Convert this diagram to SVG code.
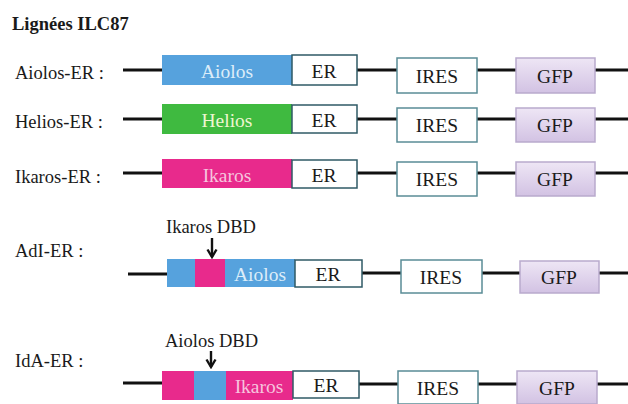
<svg xmlns="http://www.w3.org/2000/svg" width="628" height="404" viewBox="0 0 628 404">
<defs>
<linearGradient id="gfpg" x1="0" y1="0" x2="0" y2="1">
<stop offset="0" stop-color="#eee6f5"/>
<stop offset="1" stop-color="#d2c2e3"/>
</linearGradient>
<marker id="ah" viewBox="0 0 12 12" refX="10.5" refY="6" markerWidth="12" markerHeight="12" orient="auto" markerUnits="userSpaceOnUse">
<path d="M3,1.5 L10.5,6 L3,10.5" fill="none" stroke="#111" stroke-width="2.4"/>
</marker>
<style>
text{font-family:"Liberation Serif","DejaVu Serif",serif;fill:#1a1a1a}
.lbl{font-size:18.5px}
.title{font-size:18.5px;font-weight:bold}
.bt{font-size:19.5px;text-anchor:middle}
.ln{stroke:#111;stroke-width:3;fill:none}
.er{fill:#fff;stroke:#2f5a66;stroke-width:1.5}
.ires{fill:#fff;stroke:#5a8c96;stroke-width:1.5}
.gfp{fill:url(#gfpg);stroke:#b9aacd;stroke-width:1.5}
.blue{fill:#56a2dd}
.green{fill:#3fba40}
.pink{fill:#e82a8c}
.arr{stroke:#111;stroke-width:2.4;fill:none}
</style>
</defs>

<text class="title" x="12" y="30">Lignées ILC87</text>

<g id="connectors">
<line class="ln" x1="123" y1="70" x2="163" y2="70"/>
<line class="ln" x1="357" y1="70" x2="397" y2="70"/>
<line class="ln" x1="477" y1="70" x2="517" y2="70"/>
<line class="ln" x1="595" y1="70" x2="628" y2="70"/>

<line class="ln" x1="123" y1="119" x2="163" y2="119"/>
<line class="ln" x1="357" y1="119" x2="397" y2="119"/>
<line class="ln" x1="477" y1="119" x2="517" y2="119"/>
<line class="ln" x1="595" y1="119" x2="628" y2="119"/>

<line class="ln" x1="123" y1="173" x2="163" y2="173"/>
<line class="ln" x1="357" y1="173" x2="397" y2="173"/>
<line class="ln" x1="477" y1="173" x2="517" y2="173"/>
<line class="ln" x1="595" y1="173" x2="628" y2="173"/>

<line class="ln" x1="128" y1="274" x2="168" y2="274"/>
<line class="ln" x1="362" y1="273" x2="401" y2="273"/>
<line class="ln" x1="482" y1="273" x2="520" y2="273"/>
<line class="ln" x1="599" y1="273" x2="628" y2="273"/>

<line class="ln" x1="123" y1="383" x2="163" y2="383"/>
<line class="ln" x1="359" y1="384" x2="398" y2="384"/>
<line class="ln" x1="478" y1="384" x2="517" y2="384"/>
<line class="ln" x1="597" y1="384" x2="628" y2="384"/>

<line class="arr" x1="212" y1="238" x2="212" y2="257" marker-end="url(#ah)"/>
<line class="arr" x1="211" y1="351" x2="211" y2="367" marker-end="url(#ah)"/>
</g>

<g id="row-aiolos">
<text class="lbl" x="15" y="79">Aiolos-ER :</text>
<g id="aiolos-dom"><rect class="blue" x="162" y="55" width="130" height="30"/><text class="bt" x="227" y="78" style="fill:#dcedf9">Aiolos</text></g>
<g id="aiolos-er"><rect class="er" x="292" y="55" width="65" height="30"/><text class="bt" x="324" y="78">ER</text></g>
<g id="aiolos-ires"><rect class="ires" x="397" y="58" width="80" height="35"/><text class="bt" x="437" y="83">IRES</text></g>
<g id="aiolos-gfp"><rect class="gfp" x="516" y="58" width="79" height="35"/><text class="bt" x="555" y="83">GFP</text></g>
</g>

<g id="row-helios">
<text class="lbl" x="15" y="128">Helios-ER :</text>
<g id="helios-dom"><rect class="green" x="162" y="104" width="130" height="30"/><text class="bt" x="227" y="127" style="fill:#eef6d0">Helios</text></g>
<g id="helios-er"><rect class="er" x="292" y="105" width="65" height="28"/><text class="bt" x="324" y="127">ER</text></g>
<g id="helios-ires"><rect class="ires" x="397" y="108" width="80" height="34"/><text class="bt" x="437" y="132">IRES</text></g>
<g id="helios-gfp"><rect class="gfp" x="516" y="108" width="79" height="34"/><text class="bt" x="555" y="132">GFP</text></g>
</g>

<g id="row-ikaros">
<text class="lbl" x="15" y="183">Ikaros-ER :</text>
<g id="ikaros-dom"><rect class="pink" x="162" y="159" width="130" height="29"/><text class="bt" x="227" y="182" style="fill:#f6c4de">Ikaros</text></g>
<g id="ikaros-er"><rect class="er" x="292" y="160" width="65" height="28"/><text class="bt" x="324" y="182">ER</text></g>
<g id="ikaros-ires"><rect class="ires" x="397" y="162" width="80" height="34"/><text class="bt" x="437" y="186">IRES</text></g>
<g id="ikaros-gfp"><rect class="gfp" x="516" y="162" width="79" height="34"/><text class="bt" x="555" y="186">GFP</text></g>
</g>

<g id="row-adi">
<text class="lbl" x="15" y="257">AdI-ER :</text>
<text class="lbl" x="166" y="233">Ikaros DBD</text>
<g id="adi-dom">
<rect class="blue" x="167" y="259" width="128" height="28"/>
<rect class="pink" x="195" y="259" width="30" height="28"/>
<text class="bt" x="260" y="281" style="fill:#dcedf9">Aiolos</text>
</g>
<g id="adi-er"><rect class="er" x="295" y="260" width="67" height="27"/><text class="bt" x="328" y="281">ER</text></g>
<g id="adi-ires"><rect class="ires" x="401" y="260" width="81" height="33"/><text class="bt" x="441" y="284">IRES</text></g>
<g id="adi-gfp"><rect class="gfp" x="520" y="261" width="79" height="32"/><text class="bt" x="559" y="284">GFP</text></g>
</g>

<g id="row-ida">
<text class="lbl" x="15" y="367">IdA-ER :</text>
<text class="lbl" x="165" y="347">Aiolos DBD</text>
<g id="ida-dom">
<rect class="pink" x="162" y="371" width="131" height="29"/>
<rect class="blue" x="194" y="371" width="32" height="29"/>
<text class="bt" x="259" y="393" style="fill:#f6c4de">Ikaros</text>
</g>
<g id="ida-er"><rect class="er" x="293" y="371" width="66" height="27"/><text class="bt" x="326" y="392">ER</text></g>
<g id="ida-ires"><rect class="ires" x="398" y="371" width="80" height="33"/><text class="bt" x="438" y="395">IRES</text></g>
<g id="ida-gfp"><rect class="gfp" x="517" y="371" width="80" height="33"/><text class="bt" x="557" y="395">GFP</text></g>
</g>
</svg>
